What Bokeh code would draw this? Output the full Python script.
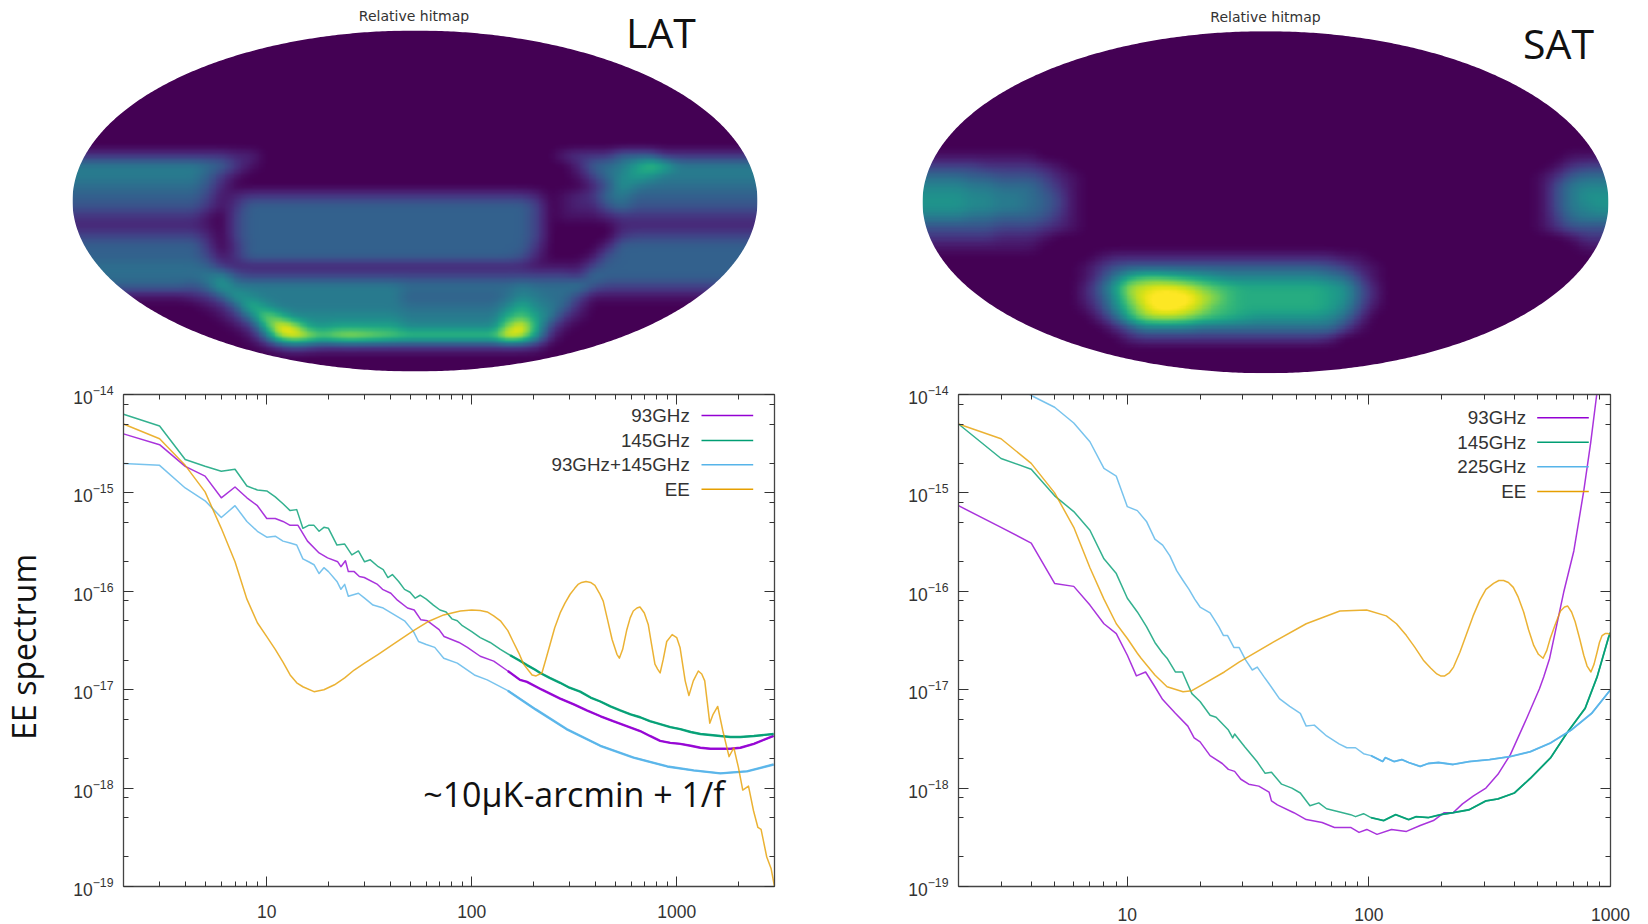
import numpy as np
from bokeh.plotting import figure
from bokeh.layouts import column, row
from bokeh.models import (Range1d, LinearColorMapper, Label, FixedTicker, LogAxis, LogTickFormatter,
                          CustomJSTickFormatter, BasicTickFormatter)
from bokeh.palettes import Viridis256
from bokeh.embed import file_html
from bokeh.resources import INLINE

# ---------- relative hit maps: levels 0-k (0..20 of 20), run-length tokens, rows top to bottom ----------
MAP_ROWS, MAP_COLS = 34, 48
LAT_FIRST_ROW = 12
LAT_HITS = [
    "3x11 2x2 0x21 2 3x3 6x3 3x7",
    "8x9 7 6 3 1 0x22 2 6 7 8 b e c 8x6",
    "8x9 6 3 1 0x23 1 4 7 9 b a 8 8x6",
    "7x9 5 2 0x25 2 5 a 8 7 7x7",
    "6x9 4 1 2 3x20 2 0 1 2 3 7 8 6x9",
    "5x9 3 1 3 6x20 4 0 1 2 2 5 7 5x9",
    "3x9 1 0 4 6x20 4 0 1 1 1 2 3 3x9",
    "2x9 1 0 4 6x20 4 0 0 0 0 0 2 2x9",
    "4x9 2 0 4 6x20 4 0 0 0 0 0 3 4x9",
    "6x9 3 0 3 6x19 6 3 0x4 2 6 6x9",
    "6x9 4 1 3 6x19 5 2 0x3 1 5 6x10",
    "7x9 6 3 2 2x20 1x3 1 4 6 6x10",
    "7x9 8 9 5 4x23 3 7 6x11",
    "6x8 5 7 b 8 8x11 7x8 8 7 7 7 8 5 4x11",
    "1x8 2 3 6 b 9 8x10 6x7 7 9 8 7 7 4 1x12",
    "0x9 1 2 6 d a 8x9 7x7 9 c 9 8 6 2 0x12",
    "0x10 1 3 8 g d 9x8 8x7 c e b 8 3 1 0x12",
    "0x11 1 3 c k i b a bx5 9x7 g k c 4 1 0x13",
    "0x12 1 6 h k i f h i h g f ex6 e k i a 2 0x14",
    "0x13 1 3 5 4 3x15 2 0x15",
]
SAT_FIRST_ROW = 12
SAT_HITS = [
    "1x8 0x37 1x3",
    "4x4 3x4 2 1 0x34 1 3 4 4",
    "7x3 6x2 5x3 4 2 1 0x32 1 3 6 7 7",
    "9x3 8 8 7 7 7 5 3 1 0x32 1 5 8 9 9",
    "ax3 9 9 8 8 7 6 4 1 0x32 1 5 8 a a",
    "ax3 9 9 8 8 7 6 4 1 0x32 1 5 8 9 a",
    "8x3 7 7 6 6 6 5 3 1 0x32 1 4 7 8 8",
    "5x3 5 5 4 4 4 3 2 1 0x32 1 3 5 5 5",
    "3x5 2x3 1 0x36 1 3 3",
    "1x8 0x38 1 1",
    "0x12 1 2x16 1 1 0x17",
    "0x11 1 3 5 6x14 5 4 2 1 0x16",
    "0x11 1 4 8 c e e d c b a 9x7 8 7 4 1 0x16",
    "0x11 2 6 b h i j j i g e d c cx5 b a 6 2 0x16",
    "0x11 2 5 a g j k k k i g d c cx5 b a 6 2 0x16",
    "0x11 1 4 9 e i k k j h e d c cx5 b 9 5 1 0x16",
    "0x12 2 6 c g h h g e d c b ax5 9 7 3 0x17",
    "0x13 2 5 8x4 7x10 4 1 0x17",
    "0x14 2 3x13 2 0x19",
]

# ---------- LAT spectra: multipole and log10(C_l) ----------
LAT_145_L = [2,3,4,5,6,7,8,9,10,11,12,13,14,15,16,17,18,19,20,22,24,26,28,30,32,35,37,39,41,44,47,50,53,56,60,65,70,75,80,85,90,100,110,123,138,154,170,186,205,216,240,270,300,338,380,424,475,530,595,663,740,830,930,1040,1170,1305,1460,1633,1830,2045,2380,2970]
LAT_145_V = [-14.20,-14.32,-14.66,-14.73,-14.78,-14.76,-14.93,-14.97,-14.98,-15.04,-15.11,-15.18,-15.17,-15.36,-15.33,-15.33,-15.39,-15.35,-15.36,-15.53,-15.52,-15.63,-15.59,-15.70,-15.68,-15.75,-15.78,-15.86,-15.83,-15.90,-15.98,-16.01,-16.07,-16.04,-16.08,-16.14,-16.19,-16.21,-16.28,-16.30,-16.35,-16.41,-16.47,-16.52,-16.59,-16.65,-16.70,-16.75,-16.80,-16.83,-16.88,-16.93,-16.98,-17.02,-17.08,-17.12,-17.17,-17.21,-17.25,-17.28,-17.32,-17.35,-17.38,-17.40,-17.43,-17.45,-17.46,-17.47,-17.48,-17.48,-17.47,-17.45]
LAT_93_L = [2,3,4,5,6,7,8,9,10,11,12,13,14.2,15.8,18,19.8,22.2,23,24.2,25,26.7,28.3,29.9,34.7,36.7,40.3,43.4,48.6,52.4,56.5,60.8,69.3,73.3,86.7,95.2,110,128,150,172,186,220,270,315,364,425,490,570,663,740,830,930,1040,1170,1305,1460,1633,1830,2045,2380,2970]
LAT_93_V = [-14.40,-14.51,-14.73,-14.83,-15.05,-14.94,-15.05,-15.13,-15.26,-15.26,-15.29,-15.33,-15.33,-15.49,-15.61,-15.66,-15.70,-15.75,-15.69,-15.80,-15.80,-15.85,-15.86,-15.93,-15.98,-16.02,-16.09,-16.17,-16.19,-16.29,-16.30,-16.39,-16.46,-16.52,-16.57,-16.66,-16.71,-16.81,-16.90,-16.92,-17.00,-17.09,-17.15,-17.21,-17.27,-17.32,-17.37,-17.42,-17.47,-17.52,-17.54,-17.55,-17.57,-17.59,-17.60,-17.60,-17.60,-17.59,-17.55,-17.47]
LAT_COMB_L = [2,3,4,5,6,7,8,9,10,11,12,13,14,15,16,17,18,19,20,22,23,24,25,28,30,33,37,42,47,52,55,60,66,73,85,103,119,150,205,290,424,616,900,1210,1633,2200,2970]
LAT_COMB_V = [-14.70,-14.72,-14.95,-15.08,-15.25,-15.13,-15.29,-15.39,-15.45,-15.44,-15.49,-15.51,-15.53,-15.67,-15.70,-15.73,-15.82,-15.76,-15.80,-15.90,-15.98,-15.93,-16.05,-16.02,-16.07,-16.14,-16.17,-16.24,-16.30,-16.41,-16.51,-16.54,-16.57,-16.68,-16.73,-16.85,-16.90,-17.01,-17.20,-17.40,-17.57,-17.69,-17.78,-17.82,-17.85,-17.83,-17.76]
LAT_EE_L = [2,3,4,5,6,7,8,9,10,11,12,13,14,15,17,19,21.4,24,26.7,30,35,42,52,61,73,80,88,100,110,119,128,138,150,160,170,179,197,206,220,230,241,254,270,285,302,318,330,344,361,380,399,420,438,460,484,511,525,545,571,593,614,640,662,695,727,754,783,807,830,860,894,950,1000,1038,1100,1147,1205,1275,1325,1370,1450,1505,1585,1680,1800,1900,2000,2100,2240,2370,2490,2580,2750,2890,3000]
LAT_EE_V = [-14.30,-14.45,-14.72,-14.99,-15.36,-15.70,-16.08,-16.32,-16.46,-16.59,-16.72,-16.85,-16.93,-16.97,-17.02,-17.00,-16.95,-16.88,-16.80,-16.73,-16.64,-16.53,-16.40,-16.31,-16.24,-16.22,-16.20,-16.19,-16.195,-16.21,-16.25,-16.30,-16.40,-16.52,-16.63,-16.74,-16.85,-16.86,-16.83,-16.69,-16.54,-16.37,-16.22,-16.12,-16.03,-15.97,-15.93,-15.91,-15.90,-15.91,-15.94,-16.02,-16.10,-16.29,-16.49,-16.64,-16.68,-16.59,-16.39,-16.27,-16.20,-16.17,-16.16,-16.22,-16.34,-16.54,-16.74,-16.79,-16.83,-16.69,-16.51,-16.44,-16.47,-16.57,-16.91,-17.06,-16.91,-16.81,-16.84,-16.91,-17.34,-17.25,-17.17,-17.42,-17.68,-17.59,-17.79,-18.02,-17.98,-18.23,-18.40,-18.42,-18.70,-18.82,-19.00]

# ---------- SAT spectra ----------
SAT_93_L = [2,3,4,5,6,7,8,9,10,10.9,11.9,13,14,15.8,17.8,18.9,20,22,24.7,26.2,27.8,29.5,31.8,35,38.6,39.5,41.8,48.9,55,64,72,84,91,98,108,124,143,163,185,205,223,244,271,305,342,385,450,508,529,560,640,705,775,828,876,923]
SAT_93_V = [-15.13,-15.35,-15.51,-15.92,-15.95,-16.14,-16.33,-16.43,-16.65,-16.86,-16.82,-16.97,-17.10,-17.24,-17.37,-17.49,-17.53,-17.67,-17.75,-17.81,-17.83,-17.91,-17.96,-17.98,-18.04,-18.13,-18.17,-18.25,-18.32,-18.35,-18.40,-18.40,-18.45,-18.42,-18.47,-18.42,-18.44,-18.38,-18.33,-18.25,-18.25,-18.16,-18.08,-18.00,-17.86,-17.66,-17.29,-16.99,-16.87,-16.68,-16.01,-15.59,-14.98,-14.49,-14.01,-13.60]
SAT_145_L = [2,3,4,5,6,7,8,9,10,11,12,13,14,14.6,15.8,16.9,18.5,20,22,23.3,26.2,27.3,27.8,30.6,34.4,37.2,39.5,43.5,48,52,57,62,66.8,75,84,88,95,102,115,129,146,157,176,198,223,260,305,342,400,466,566,660,785,880,984,1000]
SAT_145_V = [-14.30,-14.65,-14.76,-15.03,-15.19,-15.38,-15.67,-15.82,-16.07,-16.21,-16.36,-16.52,-16.63,-16.68,-16.82,-16.82,-17.04,-17.12,-17.26,-17.28,-17.41,-17.49,-17.45,-17.58,-17.73,-17.85,-17.84,-17.96,-18.00,-18.05,-18.18,-18.15,-18.21,-18.24,-18.27,-18.29,-18.26,-18.30,-18.33,-18.27,-18.32,-18.29,-18.30,-18.27,-18.25,-18.22,-18.13,-18.11,-18.05,-17.90,-17.69,-17.44,-17.19,-16.87,-16.46,-16.42]
SAT_225_L = [2,3,4,5,6,7,8,9,10,11,12,13,14,15,16,17,18,19,20,22,23.9,25,26,27.6,29,30.9,32.9,34.5,36.8,38.6,42.6,47,52,55,59.4,66.8,75.2,81,88,95,102,114,117,127,137,146,163,176,194,223,260,316,384,466,566,688,836,1000]
SAT_225_V = [-13.60,-13.80,-14.01,-14.13,-14.29,-14.48,-14.75,-14.83,-15.14,-15.18,-15.29,-15.47,-15.53,-15.64,-15.79,-15.89,-15.98,-16.08,-16.16,-16.22,-16.36,-16.45,-16.45,-16.57,-16.57,-16.70,-16.80,-16.77,-16.87,-16.94,-17.09,-17.17,-17.24,-17.37,-17.36,-17.47,-17.55,-17.59,-17.59,-17.65,-17.67,-17.73,-17.69,-17.73,-17.71,-17.74,-17.78,-17.75,-17.74,-17.76,-17.73,-17.71,-17.68,-17.63,-17.54,-17.41,-17.24,-17.00]
SAT_EE_L = [2,3,4,5,6,7,8,9,10,11,11.4,13,14.6,17,18.5,20.7,25.2,29,40,55,75.8,97.8,118,130,143,155,168,180,191,198,206,215,224,238,254,270,288,305,328,345,361,378,396,415,437,458,481,503,526,545,563,590,621,645,665,690,714,745,775,800,830,855,880,900,923,950,978,1000]
SAT_EE_V = [-14.30,-14.45,-14.70,-15.00,-15.35,-15.76,-16.08,-16.33,-16.48,-16.63,-16.68,-16.85,-16.97,-17.02,-17.01,-16.94,-16.82,-16.72,-16.52,-16.33,-16.20,-16.19,-16.25,-16.33,-16.45,-16.57,-16.70,-16.78,-16.84,-16.86,-16.86,-16.83,-16.77,-16.62,-16.43,-16.25,-16.09,-15.98,-15.92,-15.89,-15.89,-15.91,-15.96,-16.06,-16.21,-16.39,-16.55,-16.64,-16.68,-16.60,-16.48,-16.34,-16.20,-16.16,-16.15,-16.21,-16.31,-16.48,-16.65,-16.76,-16.82,-16.74,-16.62,-16.52,-16.45,-16.43,-16.43,-16.44]

LAT_LEGEND = ["93GHz", "145GHz", "93GHz+145GHz", "EE"]
SAT_LEGEND = ["93GHz", "145GHz", "225GHz", "EE"]
X_MAJOR = [10, 100, 1000]
Y_DECADES = [-19, -18, -17, -16, -15, -14]

VIOLET, GREEN, SKY, ORANGE = "#9400D3", "#009E73", "#56B4E9", "#E69F00"
TICK_FONT, TEXT_COLOR = "Liberation Sans", "#333333"
ALPHABET = "0123456789abcdefghijk"


def decode(rows, first):
    grid = np.zeros((MAP_ROWS, MAP_COLS))
    for r, line in enumerate(rows):
        cells = []
        for tok in line.split():
            ch, _, n = tok.partition("x")
            cells += [ALPHABET.index(ch)] * (int(n) if n else 1)
        cells = (cells + [cells[-1]] * MAP_COLS)[:MAP_COLS]
        grid[first + r] = np.array(cells) / 20
    return grid


def smooth_image(grid, k=8, box=7):
    h, w = grid.shape
    xi = (np.arange(w * k) + .5) / k - .5
    yi = (np.arange(h * k) + .5) / k - .5
    a = np.array([np.interp(xi, np.arange(w), rw) for rw in grid])
    a = np.array([np.interp(yi, np.arange(h), cl) for cl in a.T]).T
    kern = np.ones(box) / box
    for _ in range(2):
        a = np.apply_along_axis(lambda s: np.convolve(np.pad(s, box, mode="edge"), kern, "same")[box:-box], 0, a)
        a = np.apply_along_axis(lambda s: np.convolve(np.pad(s, box, mode="edge"), kern, "same")[box:-box], 1, a)
    return a[::-1]


def hit_map(rows, first, w, h, cx, cy, a, b, tag, tag_xy, title_xy):
    def ux(px):
        return (px - cx) / a

    def uy(py):
        return (cy - py) / b

    p = figure(width=w, height=h, x_range=Range1d(ux(0), ux(w)), y_range=Range1d(uy(h), uy(0)), output_backend="svg",
               toolbar_location=None, x_axis_location=None, y_axis_location=None,
               min_border_left=0, min_border_top=0, min_border_bottom=0, min_border_right=0)
    p.grid.visible = False
    p.outline_line_color = None
    mapper = LinearColorMapper(palette=Viridis256, low=0, high=0.97)
    p.image(image=[smooth_image(decode(rows, first))], x=-1, y=-1, dw=2, dh=2, color_mapper=mapper)
    th = np.linspace(0, 2 * np.pi, 721)
    outer_x, outer_y = [-1.02, 1.02, 1.02, -1.02], [-1.02, -1.02, 1.02, 1.02]
    p.multi_polygons(xs=[[[outer_x, list(np.cos(th))]]], ys=[[[outer_y, list(np.sin(th))]]],
                     fill_color="white", line_color=None)
    p.add_layout(Label(x=ux(title_xy[0]), y=uy(title_xy[1]), text="Relative hitmap", text_font="DejaVu Sans",
                       text_font_size="14px", text_align="center", text_baseline="middle", text_color="#333333"))
    p.add_layout(Label(x=ux(tag_xy[0]), y=uy(tag_xy[1]), text=tag, text_font="Open Sans", text_font_size="41px",
                       text_align="center", text_baseline="middle", text_color="#111111"))
    return p


def style_axis(ax):
    ax.axis_line_color = "#444444"
    ax.axis_line_width = 1.3
    ax.major_tick_line_color = "#333333"
    ax.minor_tick_line_color = "#333333"
    ax.major_tick_in = 10
    ax.major_tick_out = 0
    ax.minor_tick_in = 5
    ax.minor_tick_out = 0


def spectrum(w, h, bl, bt, bb, br, x_hi, curves, labels, legend_px, frame_origin, x_standoff):
    fw, fh = w - bl - br, h - bt - bb
    x0_px, y0_px = frame_origin
    p = figure(width=w, height=h, x_axis_type="log", y_axis_type="log", x_range=Range1d(2, x_hi),
               y_range=Range1d(1e-19, 1e-14), output_backend="svg", toolbar_location=None,
               min_border_left=bl, min_border_top=bt, min_border_bottom=bb, min_border_right=br)
    p.grid.visible = False
    p.outline_line_color = None

    xmin = [m * 10 ** e for e in range(0, 4) for m in range(2, 10) if 2 <= m * 10 ** e <= x_hi and m * 10 ** e not in X_MAJOR]
    ymin = [m * 10.0 ** e for e in Y_DECADES[:-1] for m in (2, 5, 8)]
    ymaj = [10.0 ** e for e in Y_DECADES]
    xt = FixedTicker(ticks=X_MAJOR, minor_ticks=xmin)
    yt = FixedTicker(ticks=ymaj, minor_ticks=ymin)

    p.xaxis.ticker = xt
    p.xaxis.formatter = BasicTickFormatter(use_scientific=False)
    p.xaxis.major_label_standoff = x_standoff
    p.yaxis.ticker = yt
    p.yaxis.formatter = LogTickFormatter()
    p.yaxis.major_label_standoff = 10
    for ax in (p.xaxis[0], p.yaxis[0]):
        style_axis(ax)
        ax.major_label_text_font = TICK_FONT
        ax.major_label_text_font_size = "17.5px"
        ax.major_label_text_color = TEXT_COLOR

    blank = CustomJSTickFormatter(code="return ''")
    top = LogAxis(ticker=xt, formatter=blank, major_label_standoff=0, major_label_text_font_size="1px")
    right = LogAxis(ticker=yt, formatter=blank, major_label_standoff=0, major_label_text_font_size="1px")
    style_axis(top)
    style_axis(right)
    p.add_layout(top, "above")
    p.add_layout(right, "right")

    def dx(px):
        return 2 * (x_hi / 2) ** ((px - x0_px) / fw)

    def dy(py):
        return 1e-14 * 1e-5 ** ((py - y0_px) / fh)

    for (ell, val, col, thick_from, thick) in curves:
        ell, val = np.array(ell, float), np.array(val, float)
        p.line(ell, 10 ** val, line_color=col, line_width=1.5, line_alpha=0.8, line_join="round")
        m = ell >= thick_from
        if m.any():
            p.line(ell[m], 10 ** val[m], line_color=col, line_width=thick, line_alpha=0.9)

    text_px, s0, s1, ys = legend_px
    for lab, (_, _, col, _, _), y in zip(labels, curves, ys):
        v = dy(y)
        p.line([dx(s0), dx(s1)], [v, v], line_color=col, line_width=1.5)
        p.add_layout(Label(x=dx(text_px), y=v, text=lab, text_font=TICK_FONT,
                           text_font_size="18.8px", text_align="right", text_baseline="middle",
                           text_color=TEXT_COLOR))
    return p, dx, dy


lat_curves = [(LAT_93_L, LAT_93_V, VIOLET, 150, 2.4), (LAT_145_L, LAT_145_V, GREEN, 150, 2.4),
              (LAT_COMB_L, LAT_COMB_V, SKY, 150, 2.4), (LAT_EE_L, LAT_EE_V, ORANGE, 1e9, 1.5)]
sat_curves = [(SAT_93_L, SAT_93_V, VIOLET, 1e9, 1.5), (SAT_145_L, SAT_145_V, GREEN, 100, 1.8),
              (SAT_225_L, SAT_225_V, SKY, 100, 1.8), (SAT_EE_L, SAT_EE_V, ORANGE, 1e9, 1.5)]

lat_leg = (689.3, 701, 752.7, (414, 439, 463.3, 488))
sat_leg = (1525.7, 1536.7, 1588.3, (417.3, 442, 466.7, 491.7))

p3, dx3, dy3 = spectrum(770, 544, 63, 13, 38, 56, 3000, lat_curves, LAT_LEGEND, lat_leg, (123, 393), 18)
p4, dx4, dy4 = spectrum(818, 544, 128, 14, 35, 38, 1000, sat_curves, SAT_LEGEND, sat_leg, (958, 394), 21)

p3.add_layout(Label(x=dx3(573.5), y=dy3(793), text="~10\u03bcK-arcmin + 1/f", text_font="Open Sans",
                    text_font_size="34px", text_align="center", text_baseline="middle", text_color="#111111"))

# narrow strip that carries the rotated y title
strip = figure(width=60, height=544, x_range=Range1d(0, 60), y_range=Range1d(544, 0), output_backend="svg",
               toolbar_location=None, x_axis_location=None, y_axis_location=None,
               min_border_left=0, min_border_top=0, min_border_bottom=0, min_border_right=0)
strip.grid.visible = False
strip.outline_line_color = None
strip.add_layout(Label(x=23, y=279, text="EE spectrum", text_font="Open Sans", text_font_size="32px",
                       angle=np.pi / 2, text_align="center", text_baseline="middle", text_color="#111111"))

p1 = hit_map(LAT_HITS, LAT_FIRST_ROW, 830, 380, 414.5, 200.5, 342.5, 170.5, "LAT", (660.5, 31), (413.5, 15.7))
p2 = hit_map(SAT_HITS, SAT_FIRST_ROW, 818, 380, 435, 201.7, 343, 171, "SAT", (728, 42), (435, 16.5))

page = column(row(p1, p2), row(strip, p3, p4))
open("out.html", "w").write(file_html(page, INLINE))
